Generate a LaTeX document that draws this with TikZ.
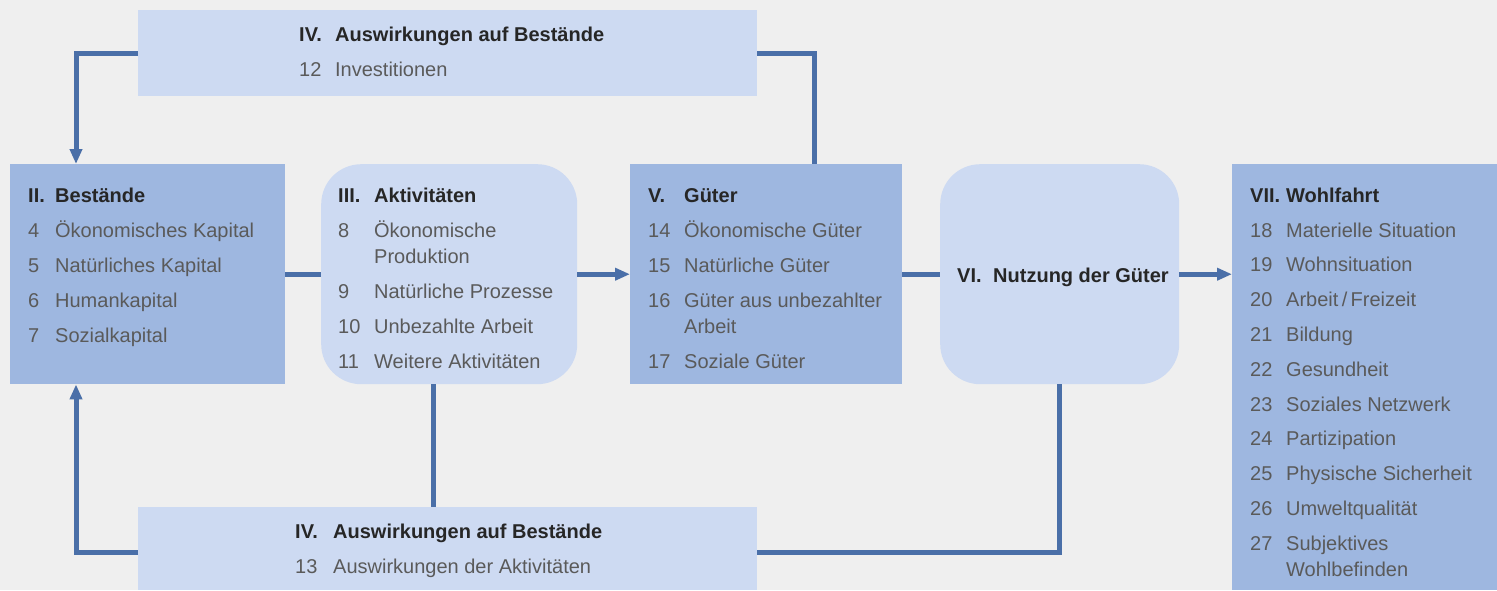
\documentclass[tikz,border=0pt]{standalone}
\usepackage{fontspec}
\setmainfont{Liberation Sans}
\usetikzlibrary{arrows.meta}
\definecolor{bgc}{HTML}{EFEFEF}
\definecolor{darkbox}{HTML}{9EB7E0}
\definecolor{lightbox}{HTML}{CDDAF2}
\definecolor{conn}{HTML}{4A6FA8}
\definecolor{headc}{HTML}{262626}
\definecolor{itemc}{HTML}{5A5A5A}
\newcommand{\hd}[2]{\leavevmode{\color{headc}\bfseries #1} & {\color{headc}\bfseries #2}}
\tikzset{
  boxd/.style={fill=darkbox, draw=none, inner sep=0pt, anchor=north west},
  boxl/.style={fill=lightbox, draw=none, inner sep=0pt, anchor=north west},
  roundl/.style={boxl, rounded corners=40pt},
  txt/.style={anchor=base west, inner sep=0pt, text=itemc, font=\fontsize{20}{26}\selectfont},
  link/.style={draw=conn, line width=5pt},
  arr/.style={link, -{Triangle[length=15pt,width=12pt]}}
}
\begin{document}
\begin{tikzpicture}[x=1pt,y=-1pt]
\useasboundingbox (0,0) rectangle (1497,590);
\fill[bgc] (0,0) rectangle (1497,590);

% boxes
\node[boxl, minimum width=619pt, minimum height=86pt] (T) at (138,10) {};
\node[boxd, minimum width=275pt, minimum height=220pt] (B2) at (10,164) {};
\node[roundl, minimum width=256pt, minimum height=220pt] (B3) at (321,164) {};
\node[boxd, minimum width=272pt, minimum height=220pt] (B5) at (630,164) {};
\node[roundl, minimum width=239pt, minimum height=220pt] (B6) at (940,164) {};
\node[boxd, minimum width=265pt, minimum height=426pt] (B7) at (1232,164) {};
\node[boxl, minimum width=619pt, minimum height=83pt] (Bot) at (138,507) {};

% texts
\node[txt] (Tt) at (299,41) {\begin{tabular}[t]{@{}p{36pt}@{}l@{}}
\hd{IV.}{Auswirkungen auf Bestände}\\[9pt]
12 & Investitionen
\end{tabular}};

\node[txt] (B2t) at (28,202) {\begin{tabular}[t]{@{}p{27pt}@{}l@{}}
\hd{II.}{Bestände}\\[9pt]
4 & Ökonomisches Kapital\\[9pt]
5 & Natürliches Kapital\\[9pt]
6 & Humankapital\\[9pt]
7 & Sozialkapital
\end{tabular}};

\node[txt] (B3t) at (338,202) {\begin{tabular}[t]{@{}p{36pt}@{}l@{}}
\hd{III.}{Aktivitäten}\\[9pt]
8 & Ökonomische\\
  & Produktion\\[9pt]
9 & Natürliche Prozesse\\[9pt]
10 & Unbezahlte Arbeit\\[9pt]
11 & Weitere Aktivitäten
\end{tabular}};

\node[txt] (B5t) at (648,202) {\begin{tabular}[t]{@{}p{36pt}@{}l@{}}
\hd{V.}{Güter}\\[9pt]
14 & Ökonomische Güter\\[9pt]
15 & Natürliche Güter\\[9pt]
16 & Güter aus unbezahlter\\
   & Arbeit\\[9pt]
17 & Soziale Güter
\end{tabular}};

\node[txt] (B6t) at (957,282) {\begin{tabular}[t]{@{}p{36pt}@{}l@{}}
\hd{VI.}{Nutzung der Güter}
\end{tabular}};

\node[txt] (B7t) at (1250,202) {\begin{tabular}[t]{@{}p{36pt}@{}l@{}}
\hd{VII.}{Wohlfahrt}\\[9pt]
18 & Materielle Situation\\[8.8pt]
19 & Wohnsituation\\[8.8pt]
20 & Arbeit\,/\,Freizeit\\[8.8pt]
21 & Bildung\\[8.8pt]
22 & Gesundheit\\[8.8pt]
23 & Soziales Netzwerk\\[8.8pt]
24 & Partizipation\\[8.8pt]
25 & Physische Sicherheit\\[8.8pt]
26 & Umweltqualität\\[8.8pt]
27 & Subjektives\\
   & Wohlbefinden
\end{tabular}};

\node[txt] (Bott) at (295,538) {\begin{tabular}[t]{@{}p{38pt}@{}l@{}}
\hd{IV.}{Auswirkungen auf Bestände}\\[9pt]
13 & Auswirkungen der Aktivitäten
\end{tabular}};

% connectors
\draw[arr] (T.west) -| ([xshift=66pt]B2.north west);
\draw[link] (T.east) -| ([xshift=184pt]B5.north west);
\draw[link] (B2.east) -- (B3.west);
\draw[arr] (B3.east) -- (B5.west);
\draw[link] (B5.east) -- (B6.west);
\draw[arr] (B6.east) -- (B7.west |- B6.east);
\draw[link] ([xshift=-16pt]B3.south) -- ([xshift=-16pt]B3.south |- Bot.north);
\draw[link] (B6.south) |- ([yshift=-4pt]Bot.east);
\draw[arr] ([yshift=-4pt]Bot.west) -| ([xshift=66pt]B2.south west);
\end{tikzpicture}
\end{document}
